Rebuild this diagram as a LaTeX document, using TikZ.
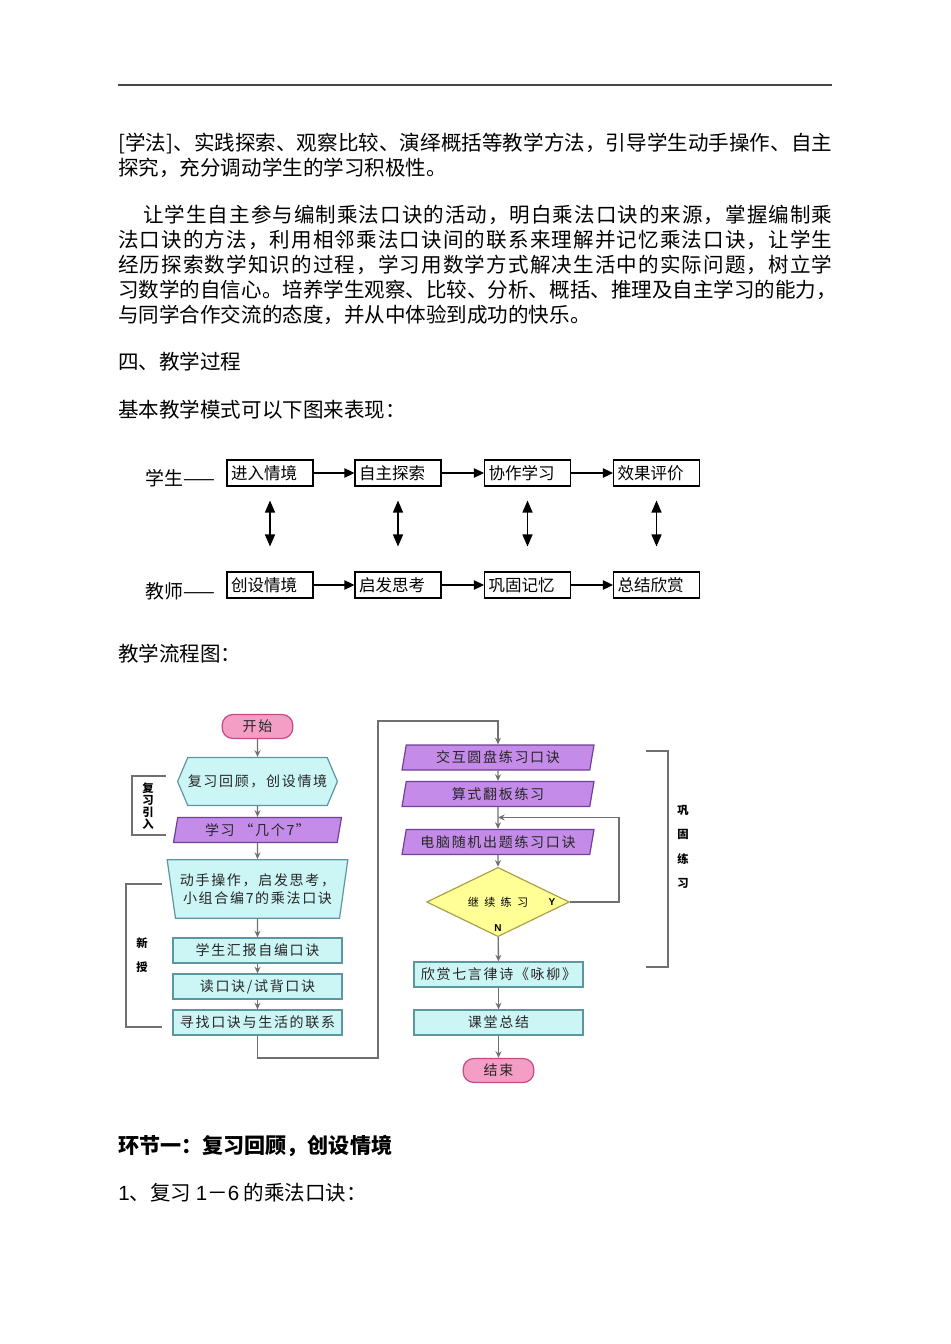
\documentclass[tikz,border=0pt]{standalone}
\usepackage{fontspec}
\setmainfont{Noto Sans CJK SC}
\newfontfamily\flowfont[LetterSpace=12]{Noto Sans CJK SC}
\newfontfamily\arialfont{Liberation Sans}
\usetikzlibrary{arrows.meta,shapes.geometric,shapes.symbols}

% spread the characters of a line over the full text width
\def\spreadchars#1{\spreadfirst#1\relax}
\def\spreadfirst#1{#1\spreadrest}
\def\spreadrest#1{\ifx#1\relax\else\hskip 0pt plus 1fil #1\expandafter\spreadrest\fi}
\newcommand\fullline[1]{\hbox to 535.5pt{#1}}

\definecolor{rulegray}{RGB}{70,70,70}
\definecolor{linegray}{RGB}{112,112,112}
\definecolor{pillpink}{RGB}{244,158,198}
\definecolor{pilledge}{RGB}{196,74,130}
\definecolor{aqua}{RGB}{204,246,246}
\definecolor{aquaedge}{RGB}{92,150,160}
\definecolor{lilac}{RGB}{196,140,232}
\definecolor{lilacedge}{RGB}{112,64,150}
\definecolor{lemon}{RGB}{255,255,150}
\definecolor{lemonedge}{RGB}{170,160,70}

\tikzset{
  body/.style={anchor=base west, inner sep=0pt, font=\fontsize{15.4}{18.75}\selectfont},
  rowlabel/.style={anchor=west, inner sep=0pt, font=\fontsize{14.2}{16}\selectfont},
  modebox/.style={draw, line width=0.8pt, text width=58.5pt, inner xsep=3pt, inner ysep=0pt,
    minimum height=19.5pt, align=left, font=\fontsize{12.4}{14}\selectfont},
  modearrow/.style={line width=0.9pt, -{Triangle[length=7.5pt,width=7pt]}},
  twoway/.style={line width=1.1pt, {Triangle[length=9pt,width=7.5pt]}-{Triangle[length=9pt,width=7.5pt]}},
  flowtext/.style={font=\flowfont\fontsize{10.5}{13}\selectfont, text=black!85},
  pillbox/.style={flowtext, rectangle, rounded corners=8pt, draw=pilledge, fill=pillpink,
    line width=0.9pt, minimum width=53pt, minimum height=18pt},
  hexbox/.style={flowtext, signal, signal to=west and east, signal pointer angle=134,
    draw=aquaedge, fill=aqua, line width=0.9pt, inner xsep=0pt, minimum width=104pt, minimum height=36pt},
  slantbox/.style={flowtext, trapezium, trapezium left angle=79, trapezium right angle=101,
    trapezium stretches body, draw=lilacedge, fill=lilac, line width=0.9pt, minimum height=18.75pt},
  funnelbox/.style={flowtext, trapezium, trapezium left angle=78, trapezium right angle=78,
    shape border rotate=180, trapezium stretches body, draw=aquaedge, fill=aqua, line width=0.9pt,
    minimum width=126pt, minimum height=44pt, align=center},
  cyanbox/.style={flowtext, rectangle, draw=aquaedge, fill=aqua, line width=0.9pt,
    minimum width=126.75pt, minimum height=18.75pt},
  decidebox/.style={diamond, aspect=2, draw=lemonedge, fill=lemon, line width=0.9pt,
    minimum width=107pt, minimum height=52pt, inner sep=0pt, font=\fontsize{8.3}{10}\selectfont},
  yn/.style={inner sep=0pt, font=\arialfont\bfseries\fontsize{7.5}{9}\selectfont},
  flowline/.style={draw=linegray, line width=1pt, -{Stealth[length=5pt,width=4.5pt]}},
  bracketline/.style={draw=linegray, line width=1pt},
  sidechar/.style={inner sep=0pt, font=\bfseries\fontsize{8.5}{9}\selectfont},
}

\begin{document}
\begin{tikzpicture}[x=0.75pt,y=-0.75pt]
  \useasboundingbox (0,0) rectangle (950,1344);
  \draw[rulegray, line width=1.2pt] (118,85) -- (832,85);

  % text above the diagrams
  \node[body] (para1a) at (118,150.5) {\fullline{\spreadchars{[学法]、实践探索、观察比较、演绎概括等教学方法，引导学生动手操作、自主}}};
  \node[body] (para1b) at (118,175.5) {探究，充分调动学生的学习积极性。};
  \node[body] (para2a) at (118,222.5) {\fullline{\hspace*{18.75pt}\spreadchars{让学生自主参与编制乘法口诀的活动，明白乘法口诀的来源，掌握编制乘}}};
  \node[body] (para2b) at (118,247.5) {\fullline{\spreadchars{法口诀的方法，利用相邻乘法口诀间的联系来理解并记忆乘法口诀，让学生}}};
  \node[body] (para2c) at (118,272.5) {\fullline{\spreadchars{经历探索数学知识的过程，学习用数学方式解决生活中的实际问题，树立学}}};
  \node[body] (para2d) at (118,297.5) {\fullline{\spreadchars{习数学的自信心。培养学生观察、比较、分析、概括、推理及自主学习的能力，}}};
  \node[body] (para2e) at (118,322.5) {与同学合作交流的态度，并从中体验到成功的快乐。};
  \node[body] (sec4) at (118,369.5) {四、教学过程};
  \node[body] (modeintro) at (118,417.5) {基本教学模式可以下图来表现：};

  % teaching mode
  \node[rowlabel] (stu) at (145,478) {学生——};
  \node[rowlabel] (tea) at (145,591) {教师——};
  \foreach \n/\x/\t in {s1/270/进入情境, s2/398/自主探索, s3/527.5/协作学习, s4/656.5/效果评价}
    \node[modebox] (\n) at (\x,473) {\t};
  \foreach \n/\x/\t in {t1/270/创设情境, t2/398/启发思考, t3/527.5/巩固记忆, t4/656.5/总结欣赏}
    \node[modebox] (\n) at (\x,585) {\t};
  \foreach \a/\b in {s1/s2,s2/s3,s3/s4,t1/t2,t2/t3,t3/t4}
    \draw[modearrow] (\a) -- (\b);
  \foreach \i in {1,...,4}
    \draw[twoway, shorten <=10.5pt, shorten >=18.75pt] (s\i.south) -- (t\i.north);

  \node[body] (flowintro) at (118,661.5) {教学流程图：};

  % flow chart, left column
  \node[pillbox] (start) at (257.5,726.5) {开始};
  \node[hexbox] (review) at (257.5,781.5) {复习回顾，创设情境};
  \node[slantbox, minimum width=126pt] (learn7) at (257.5,830) {学习 “几个7”};
  \node[funnelbox] (handson) at (257.5,889) {动手操作，启发思考，\\小组合编7的乘法口诀};
  \node[cyanbox] (report) at (257.5,950.5) {学生汇报自编口诀};
  \node[cyanbox] (recite) at (257.5,986.5) {读口诀/试背口诀};
  \node[cyanbox] (findlink) at (257.5,1022.5) {寻找口诀与生活的联系};
  % right column
  \node[slantbox, minimum width=144pt] (drill1) at (498,757.5) {交互圆盘练习口诀};
  \node[slantbox, minimum width=144pt] (drill2) at (498,794) {算式翻板练习};
  \node[slantbox, minimum width=144pt] (drill3) at (498,842) {电脑随机出题练习口诀};
  \node[decidebox] (goon) at (498,902) {继\hspace{4pt}续\hspace{4pt}练\hspace{4pt}习\hspace{14pt}};
  \node[yn] (yes) at (552,902) {Y};
  \node[yn] (no) at (498,928) {N};
  \node[cyanbox] (poem) at (498.5,974.5) {欣赏七言律诗《咏柳》};
  \node[cyanbox] (summary) at (498.5,1022.5) {课堂总结};
  \node[pillbox] (finish) at (498.5,1070.5) {结束};

  \foreach \a/\b in {start/review,review/learn7,learn7/handson,handson/report,report/recite,
      recite/findlink,drill1/drill2,drill2/drill3,drill3/goon,goon/poem,poem/summary,summary/finish}
    \draw[flowline] (\a) -- (\b);
  \coordinate (lowturn) at (257.5,1058);
  \coordinate (highturn) at (378,721);
  \draw[flowline] (findlink.south) -- (lowturn) -| (highturn) -| (drill1.north);
  \coordinate (loopturn) at (619,817.5);
  \coordinate (loopin) at (498,817.5);
  \draw[flowline] (goon.east) -| (loopturn) -- (loopin);

  % side brackets
  \draw[bracketline] (166,776) -- (132,776) -- (132,835) -- (166,835);
  \draw[bracketline] (162,884) -- (126,884) -- (126,1027) -- (162,1027);
  \draw[bracketline] (646,751) -- (668,751) -- (668,967) -- (646,967);
  \foreach \c [count=\i] in {复,习,引,入}
    \node[sidechar] (intro\i) at (148,{776+12*\i}) {\c};
  \foreach \c [count=\i] in {新,授}
    \node[sidechar] (newpart\i) at (142,{919+24*\i}) {\c};
  \foreach \c [count=\i] in {巩,固,练,习}
    \node[sidechar] (practice\i) at (683,{786+24.3*\i}) {\c};

  % text below
  \node[body, font=\bfseries\fontsize{15.8}{18.75}\selectfont] (step1) at (118,1153.5) {环节一：复习回顾，创设情境};
  \node[body] (review16) at (118,1200.5) {{\arialfont 1}、复习 {\arialfont 1}－{\arialfont 6} 的乘法口诀：};
\end{tikzpicture}
\end{document}
